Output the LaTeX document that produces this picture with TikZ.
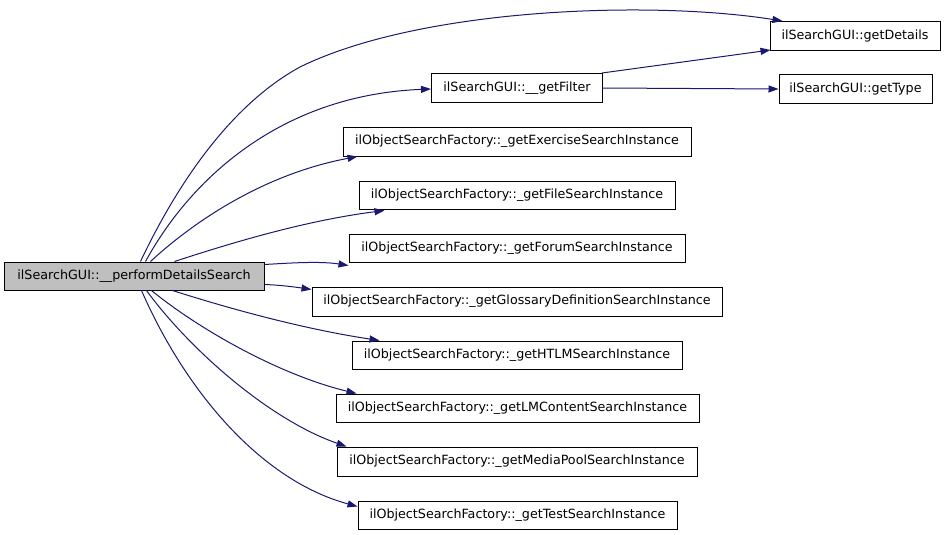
\documentclass[tikz,border=0pt]{standalone}
\usepackage{fontspec}
\setmainfont{DejaVu Sans}
\usetikzlibrary{arrows.meta}
\definecolor{edgeblue}{HTML}{191970}
\definecolor{maingray}{HTML}{BFBFBF}
\begin{document}
\begin{tikzpicture}[x=1pt,y=-1pt,
  fn/.style={draw=black, line width=1pt, fill=white, inner sep=0pt, minimum height=29pt,
    font=\fontsize{12.7}{15}\selectfont, anchor=center},
  call/.style={draw=edgeblue, line width=1pt, -{Triangle[length=10pt,width=7pt]}, edgeblue}]
\path[use as bounding box, fill=white] (0,0) rectangle (947,535);

\node[fn, fill=maingray, minimum width=260pt, minimum height=28pt] (main) at (134,276) {ilSearchGUI::\_\_performDetailsSearch};
\node[fn, minimum width=170pt] (gd) at (855,36) {ilSearchGUI::getDetails};
\node[fn, minimum width=171pt] (gf) at (517,88) {ilSearchGUI::\_\_getFilter};
\node[fn, minimum width=153pt] (gt) at (855.5,89) {ilSearchGUI::getType};
\node[fn, minimum width=348pt] (ex) at (517,141.5) {ilObjectSearchFactory::\_getExerciseSearchInstance};
\node[fn, minimum width=316pt, minimum height=28pt] (fi) at (517,195) {ilObjectSearchFactory::\_getFileSearchInstance};
\node[fn, minimum width=336pt, minimum height=28pt] (fo) at (517,248) {ilObjectSearchFactory::\_getForumSearchInstance};
\node[fn, minimum width=410pt] (gl) at (517,301.5) {ilObjectSearchFactory::\_getGlossaryDefinitionSearchInstance};
\node[fn, minimum width=330pt, minimum height=28pt] (ht) at (517,355) {ilObjectSearchFactory::\_getHTLMSearchInstance};
\node[fn, minimum width=363pt, minimum height=28pt] (lm) at (517.5,408) {ilObjectSearchFactory::\_getLMContentSearchInstance};
\node[fn, minimum width=360pt] (mp) at (517,461.5) {ilObjectSearchFactory::\_getMediaPoolSearchInstance};
\node[fn, minimum width=319pt, minimum height=28pt] (te) at (517.5,515) {ilObjectSearchFactory::\_getTestSearchInstance};

% main -> getDetails
\draw[call] ([xshift=137pt]main.north west) .. controls (172,195) and (225,108) .. (300,67)
  .. controls (420,8) and (650,0) .. ([xshift=13pt]gd.north west);
% main -> getFilter
\draw[call] ([xshift=142pt]main.north west) .. controls (190,180) and (280,95) .. ([yshift=-1pt]gf.west);
% main -> exercise
\draw[call] ([xshift=147pt]main.north west) .. controls (190,225) and (260,175) .. ([xshift=15pt]ex.south west);
% main -> file
\draw[call] ([xshift=171pt]main.north west) .. controls (240,240) and (310,220) .. ([xshift=26pt,yshift=-1pt]fi.south west);
% main -> forum
\draw[call] ([yshift=-3pt]main.north east) .. controls (290,263) and (320,261) .. ([yshift=-3pt]fo.south west);
% main -> glossary
\draw[call] ([yshift=6pt]main.south east) .. controls (280,285) and (295,287) .. ([yshift=-3pt]gl.north west);
% main -> htlm
\draw[call] ([xshift=169pt]main.south west) .. controls (240,312) and (310,330) .. ([xshift=28pt]ht.north west);
% main -> lmcontent
\draw[call] ([xshift=148pt]main.south west) .. controls (200,330) and (280,375) .. ([xshift=21pt]lm.north west);
% main -> mediapool
\draw[call] ([xshift=143pt]main.south west) .. controls (190,350) and (270,420) .. ([xshift=10pt]mp.north west);
% main -> test
\draw[call] ([xshift=138pt]main.south west) .. controls (185,390) and (260,480) .. ([yshift=-6pt]te.north west);
% getFilter -> getDetails
\draw[call] ([xshift=-1pt]gf.north east) -- ([xshift=1pt,yshift=1pt]gd.south west);
% getFilter -> getType
\draw[call] (gf.east) -- (gt.west);
\end{tikzpicture}
\end{document}
